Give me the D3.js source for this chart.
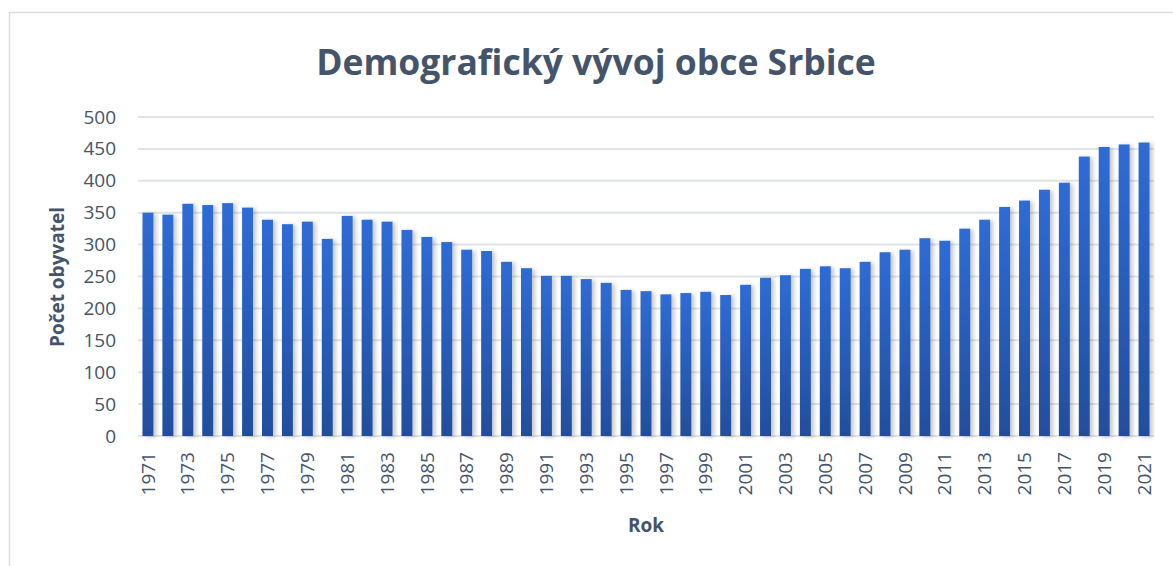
<!DOCTYPE html>
<html>
<head>
<meta charset="utf-8">
<script src="https://cdn.jsdelivr.net/npm/d3@7"></script>
<style>
  body { margin: 0; background: #fff; }
  text { font-family: "Open Sans", "Noto Sans", sans-serif; fill: #44546a; }
</style>
</head>
<body>
<svg id="chart"></svg>
<script>
// data
var years = d3.range(1971, 2022);
var population = [350, 347, 364, 362, 365, 358, 339, 332, 336, 309,
                  345, 339, 336, 323, 312, 304, 292, 290, 273, 263,
                  251, 251, 246, 240, 229, 227, 222, 224, 226, 221,
                  237, 248, 252, 262, 266, 263, 273, 288, 292, 310,
                  306, 325, 339, 359, 369, 386, 397, 438, 453, 457, 460];
var yTicks = [0, 50, 100, 150, 200, 250, 300, 350, 400, 450, 500];
var labelYears = years.filter(function(d){ return (d - 1971) % 2 == 0; });

var W = 1173, H = 566;
var margin = {top: 117, right: 19, bottom: 130, left: 138};
var width = W - margin.left - margin.right,
    height = H - margin.top - margin.bottom;

var svg = d3.select("#chart").attr("width", W).attr("height", H);

// chart frame (only top and left edges visible)
svg.append("rect")
    .attr("x", 9.5).attr("y", 12.5)
    .attr("width", W + 20).attr("height", H + 20)
    .attr("fill", "none")
    .style("stroke", "#d9dde3")
    .style("stroke-width", 1.5);

var defs = svg.append("defs");
var grad = defs.append("linearGradient")
    .attr("id", "barGrad")
    .attr("x1", 0).attr("y1", 0).attr("x2", 0).attr("y2", 1);
grad.append("stop").attr("offset", "0%").attr("stop-color", "#2e6cd6");
grad.append("stop").attr("offset", "100%").attr("stop-color", "#214e9c");

var shadow = defs.append("filter")
    .attr("id", "shadow")
    .attr("x", "-50%").attr("y", "-10%")
    .attr("width", "200%").attr("height", "120%");
shadow.append("feDropShadow")
    .attr("dx", 3).attr("dy", 1)
    .attr("stdDeviation", 2.2)
    .attr("flood-color", "#000")
    .attr("flood-opacity", 0.22);

var g = svg.append("g")
    .attr("transform", "translate(" + margin.left + "," + margin.top + ")");

var x = d3.scaleBand()
    .domain(years)
    .range([0, width])
    .paddingInner(0.45)
    .paddingOuter(0.225);

var y = d3.scaleLinear()
    .domain([0, 500])
    .range([height, 0]);

// gridlines
g.append("g")
    .selectAll("line")
    .data(yTicks)
    .enter().append("line")
    .attr("x1", 0).attr("x2", width)
    .attr("y1", function(d){ return y(d); })
    .attr("y2", function(d){ return y(d); })
    .style("stroke", "#dfe3e8")
    .style("stroke-width", 2);

// bars
g.append("g")
    .selectAll("rect")
    .data(population)
    .enter().append("rect")
    .attr("x", function(d, i){ return x(years[i]); })
    .attr("y", function(d){ return y(d); })
    .attr("width", x.bandwidth())
    .attr("height", function(d){ return height - y(d); })
    .attr("fill", "url(#barGrad)")
    .attr("filter", "url(#shadow)");

// y axis
var yAxis = d3.axisLeft(y)
    .tickValues(yTicks)
    .tickSize(0)
    .tickPadding(22);
var ya = g.append("g").call(yAxis);
ya.select(".domain").remove();
ya.selectAll("text")
    .style("font-size", "19px")
    .attr("fill", "#44546a");

// x axis
var xAxis = d3.axisBottom(x)
    .tickValues(labelYears)
    .tickSize(0);
var xa = g.append("g")
    .attr("transform", "translate(0," + height + ")")
    .call(xAxis);
xa.select(".domain").remove();
xa.selectAll("text")
    .style("font-size", "19px")
    .attr("fill", "#44546a")
    .attr("text-anchor", "end")
    .attr("dy", "0.35em")
    .attr("transform", "translate(0,16) rotate(-90)")
    .attr("x", 0).attr("y", 0);

// titles
svg.append("text")
    .attr("x", 596).attr("y", 75)
    .attr("text-anchor", "middle")
    .style("font-size", "35.5px")
    .style("font-weight", "bold")
    .text("Demografický vývoj obce Srbice");

svg.append("text")
    .attr("transform", "translate(64,277) rotate(-90)")
    .attr("text-anchor", "middle")
    .style("font-size", "19px")
    .style("font-weight", "bold")
    .text("Počet obyvatel");

svg.append("text")
    .attr("x", 646).attr("y", 532)
    .attr("text-anchor", "middle")
    .style("font-size", "19px")
    .style("font-weight", "bold")
    .text("Rok");
</script>
</body>
</html>
